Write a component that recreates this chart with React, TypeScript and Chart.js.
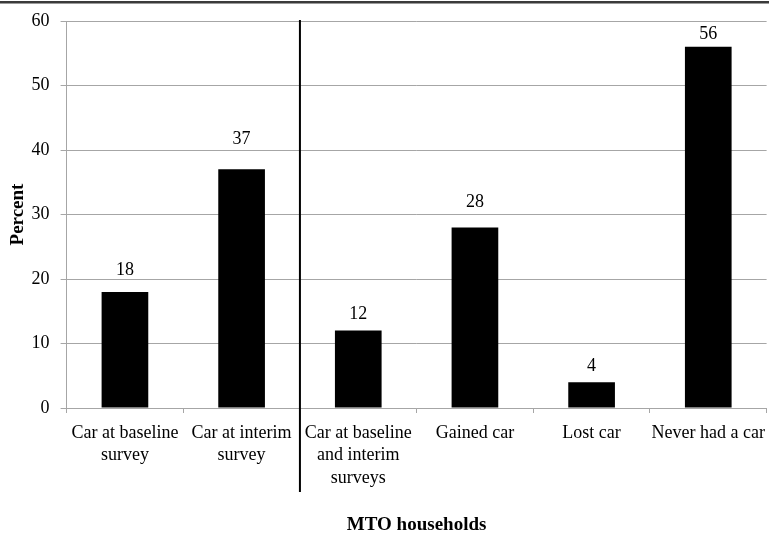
import React, { useEffect, useRef } from "react";
import { Chart, registerables } from "chart.js";

Chart.register(...registerables);

const categories: (string | string[])[] = [
  ["Car at baseline", "survey"],
  ["Car at interim", "survey"],
  ["Car at baseline", "and interim", "surveys"],
  "Gained car",
  "Lost car",
  "Never had a car",
];
const percentValues = [18, 37, 12, 28, 4, 56];
const yTicks = [0, 10, 20, 30, 40, 50, 60];
const yTitle = "Percent";
const xTitle = "MTO households";

// style only: how far each value label floats above its bar (px)
const labelLift = [22, 30, 16, 25, 16, 13];

const FONT = "'Liberation Serif', 'Times New Roman', serif";
const GRID = "#a6a6a6";

const overlayPlugin = {
  id: "overlay",
  afterDatasetsDraw(chart: any) {
    const ctx = chart.ctx;
    const meta = chart.getDatasetMeta(0);
    ctx.save();
    ctx.fillStyle = "#000";
    ctx.font = `18px ${FONT}`;
    ctx.textAlign = "center";
    ctx.textBaseline = "middle";
    meta.data.forEach((bar: any, i: number) => {
      ctx.fillText(String(percentValues[i]), bar.x, bar.y - labelLift[i]);
    });
    ctx.restore();
  },
  afterDraw(chart: any) {
    const ctx = chart.ctx;
    const xs = chart.scales.x;
    const area = chart.chartArea;
    const sepX = (xs.getPixelForValue(1) + xs.getPixelForValue(2)) / 2;
    ctx.save();
    ctx.strokeStyle = "#000";
    ctx.lineWidth = 2;
    ctx.beginPath();
    ctx.moveTo(sepX, area.top - 1);
    ctx.lineTo(sepX, area.bottom + 84);
    ctx.stroke();
    // frame line at top
    ctx.fillStyle = "#3a3a3a";
    ctx.fillRect(0, 1, chart.width, 2);
    ctx.fillStyle = "#9a9a9a";
    ctx.fillRect(0, 3, chart.width, 1);
    ctx.restore();
  },
};

export default function App() {
  const ref = useRef<HTMLCanvasElement | null>(null);
  useEffect(() => {
    if (!ref.current) return;
    const chart = new Chart(ref.current, {
      type: "bar",
      data: {
        labels: categories,
        datasets: [
          {
            data: percentValues,
            backgroundColor: "#000000",
            borderWidth: 0,
            categoryPercentage: 1,
            barPercentage: 0.4,
          },
        ],
      },
      options: {
        animation: false,
        responsive: false,
        devicePixelRatio: 1,
        layout: { padding: { top: 21, right: 2.4, bottom: 0, left: 0 } },
        plugins: {
          legend: { display: false },
          tooltip: { enabled: false },
        },
        scales: {
          x: {
            offset: true,
            grid: {
              offset: true,
              drawOnChartArea: false,
              drawTicks: true,
              tickLength: 5,
              color: GRID,
            },
            border: { display: true, color: GRID, width: 1 },
            ticks: {
              autoSkip: false,
              maxRotation: 0,
              minRotation: 0,
              padding: 9,
              color: "#000",
              font: { family: FONT, size: 18, lineHeight: 1.25 },
            },
            title: {
              display: true,
              text: xTitle,
              color: "#000",
              font: { family: FONT, size: 19, weight: "bold", lineHeight: 1.0 },
              padding: { top: 0, bottom: 0 },
            },
            afterFit(scale: any) {
              scale.height = 127;
              scale.paddingLeft = 0;
              scale.paddingRight = 0;
            },
          },
          y: {
            min: yTicks[0],
            max: yTicks[yTicks.length - 1],
            afterBuildTicks(scale: any) {
              scale.ticks = yTicks.map((v) => ({ value: v }));
            },
            grid: {
              color: GRID,
              lineWidth: 1,
              drawTicks: true,
              tickLength: 6,
            },
            border: { display: true, color: GRID, width: 1 },
            ticks: {
              padding: 11,
              color: "#000",
              font: { family: FONT, size: 18 },
            },
            title: {
              display: true,
              text: yTitle,
              color: "#000",
              font: { family: FONT, size: 19, weight: "bold", lineHeight: 1.0 },
              padding: { top: 9, bottom: 0 },
            },
            afterFit(scale: any) {
              scale.width = 66.6;
              scale.paddingTop = 0;
              scale.paddingBottom = 0;
            },
          },
        },
      },
      plugins: [overlayPlugin],
    });
    return () => chart.destroy();
  }, []);
  return (
    <div
      style={{
        position: "fixed",
        left: 0,
        top: 0,
        width: 769,
        height: 535,
        background: "#fff",
      }}
    >
      <canvas ref={ref} width={769} height={535} />
    </div>
  );
}
